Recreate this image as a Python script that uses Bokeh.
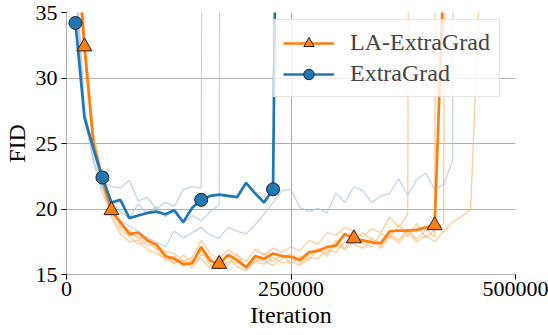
from bokeh.plotting import figure
from bokeh.models import FixedTicker, BasicTickFormatter, Legend, LegendItem
from bokeh.embed import file_html
from bokeh.resources import INLINE

ITER = [10000, 20000, 30000, 40000, 50000, 60000, 70000, 80000, 90000, 100000,
        110000, 120000, 130000, 140000, 150000, 160000, 170000, 180000, 190000, 200000,
        210000, 220000, 230000, 240000, 250000, 260000, 270000, 280000, 290000, 300000,
        310000, 320000, 330000, 340000, 350000, 360000, 370000, 380000, 390000, 400000,
        410000, 420000, 430000, 440000, 450000, 460000, 470000]

# LA-ExtraGrad main run
LA_MAIN = [41.0, 32.4, 25.0, 22.2, 19.9, 19.0, 18.1, 18.2, 17.6, 17.3,
           16.4, 16.2, 15.8, 15.85, 17.1, 16.05, 15.8, 16.5, 16.1, 15.55,
           16.4, 16.2, 16.6, 16.4, 16.35, 16.1, 16.7, 16.8, 17.1, 17.2,
           18.1, 17.75, 17.6, 17.45, 17.4, 18.3, 18.35, 18.35, 18.4, 18.6,
           18.75, 38.0, 100.0]
# LA-ExtraGrad other runs (faint)
LA_RUN1 = [45.0, 33.5, 25.8, 22.6, 20.3, 18.6, 18.4, 17.7, 17.9, 17.0,
           16.8, 16.6, 16.0, 16.3, 17.6, 16.6, 16.2, 16.9, 16.4, 16.0,
           16.9, 16.5, 17.0, 16.7, 17.1, 16.8, 17.6, 17.3, 18.2, 18.0,
           18.6, 18.3, 17.9, 18.5, 18.2, 19.4, 18.6, 19.6, 300.0]
LA_RUN2 = [42.0, 32.8, 24.6, 21.7, 19.6, 18.4, 17.9, 17.3, 17.5, 16.9,
           16.1, 16.4, 15.6, 16.1, 16.8, 15.7, 16.0, 16.3, 15.6, 15.3,
           16.0, 15.8, 16.3, 15.9, 16.0, 15.7, 16.3, 16.2, 16.9, 16.7,
           17.5, 17.3, 17.0, 17.8, 17.2, 18.1, 17.6, 18.5, 17.7, 18.4,
           17.9, 300.0]
LA_RUN3 = [44.0, 31.8, 24.9, 21.9, 19.4, 18.1, 17.5, 17.6, 16.9, 16.6,
           16.2, 15.9, 16.1, 15.5, 16.5, 16.3, 15.4, 16.0, 15.9, 15.5,
           15.9, 16.6, 16.0, 16.5, 15.8, 16.4, 16.1, 17.0, 16.6, 17.6,
           17.0, 18.0, 17.4, 17.1, 18.1, 17.8, 18.8, 17.9, 18.9, 17.8,
           18.4, 18.9, 300.0]
LA_RUN4 = [43.0, 33.0, 25.3, 22.0, 19.7, 18.9, 18.0, 17.9, 17.2, 17.4,
           16.6, 15.8, 16.5, 15.9, 16.2, 15.5, 16.4, 15.7, 16.6, 15.4,
           16.2, 16.0, 15.7, 16.2, 16.6, 15.9, 16.5, 16.9, 16.4, 17.3,
           16.9, 17.5, 18.2, 17.6, 17.0, 17.9, 17.4, 18.3, 17.5, 18.0,
           17.5, 18.3, 19.0, 19.4, 20.0, 37.0, 200.0]

# ExtraGrad main run
EG_MAIN = [34.2, 27.0, 24.6, 22.4, 20.5, 20.7, 19.3, 19.5, 19.7, 19.8,
           19.6, 19.9, 19.0, 20.1, 20.7, 21.0, 21.1, 21.0, 20.9, 22.0,
           21.2, 20.5, 21.5, 90.0]
# ExtraGrad other runs (faint)
EG_RUN1 = [39.0, 27.6, 24.4, 22.1, 21.7, 21.6, 22.2, 20.6, 20.9, 20.0,
           20.5, 20.2, 21.5, 21.7, 21.6, 300.0]
EG_RUN2 = [37.0, 26.8, 23.8, 21.6, 20.6, 19.8, 19.3, 20.4, 19.6, 20.2,
           19.4, 19.9, 18.9, 19.5, 19.1, 19.8, 20.3, 300.0]
EG_RUN3 = [38.0, 27.2, 23.6, 21.2, 19.8, 19.1, 18.7, 18.3, 17.8, 17.5,
           17.1, 18.3, 17.8, 18.2, 18.6, 18.0, 17.8, 18.6, 18.3, 18.1,
           18.8, 19.6, 20.5, 21.4, 21.5, 20.1, 19.8, 20.05, 19.7, 21.2,
           20.5, 21.7, 21.4, 20.5, 21.0, 21.2, 22.3, 21.05, 22.25, 22.75,
           21.5, 21.9, 23.7, 300.0]

LA_MARK_ITERS = [20000, 50000, 170000, 320000, 410000]
EG_MARK_ITERS = [10000, 40000, 150000, 230000]

X_TICKS = [0, 250000, 500000]
Y_TICKS = [15, 20, 25, 30, 35]

ORANGE = "#ff7f0e"
BLUE = "#1f77b4"
ORANGE_FAINT = "#ffbb78"
BLUE_FAINT = "#aec7e8"
FONT = "'Liberation Serif', serif"

p = figure(width=548, height=335, output_backend="svg", toolbar_location=None,
           x_range=(0, 500000), y_range=(15, 35),
           min_border_left=62, min_border_right=33, min_border_top=12, min_border_bottom=61)
p.outline_line_color = None
p.background_fill_color = "white"

for ax in (p.xaxis[0], p.yaxis[0]):
    ax.major_label_text_font = FONT
    ax.major_label_text_font_size = "22px"
    ax.major_label_text_color = "black"
    ax.axis_label_text_font = FONT
    ax.axis_label_text_font_size = "24px"
    ax.axis_label_text_font_style = "normal"
    ax.axis_label_text_color = "black"
    ax.axis_line_color = "#b0b0b0"
    ax.major_tick_line_color = "black"
    ax.major_tick_out = 5
    ax.major_tick_in = 0
    ax.minor_tick_line_color = None
    ax.axis_label_standoff = 3

p.xaxis.major_label_standoff = 2
p.yaxis.major_label_standoff = 4
p.xaxis.ticker = FixedTicker(ticks=X_TICKS)
p.yaxis.ticker = FixedTicker(ticks=Y_TICKS)
p.xaxis.formatter = BasicTickFormatter(use_scientific=False)
p.xaxis.axis_label = "Iteration"
p.yaxis.axis_label = "FID"
p.grid.grid_line_color = "#b0b0b0"
p.grid.grid_line_width = 1
p.xgrid.ticker = FixedTicker(ticks=X_TICKS)
p.ygrid.ticker = FixedTicker(ticks=Y_TICKS)

for run in (LA_RUN1, LA_RUN2, LA_RUN3, LA_RUN4):
    p.line(ITER[:len(run)], run, line_color=ORANGE_FAINT, line_width=1.3, line_alpha=0.75)
for run in (EG_RUN1, EG_RUN2, EG_RUN3):
    p.line(ITER[:len(run)], run, line_color=BLUE_FAINT, line_width=1.3, line_alpha=0.75)

la_line = p.line(ITER[:len(LA_MAIN)], LA_MAIN, line_color=ORANGE, line_width=2.7)
eg_line = p.line(ITER[:len(EG_MAIN)], EG_MAIN, line_color=BLUE, line_width=2.7)

la_my = [LA_MAIN[ITER.index(it)] for it in LA_MARK_ITERS]
eg_my = [EG_MAIN[ITER.index(it)] for it in EG_MARK_ITERS]
la_mk = p.scatter(LA_MARK_ITERS, la_my, marker="triangle", size=15, fill_color=ORANGE,
                  line_color="#222222", line_width=1)
eg_mk = p.scatter(EG_MARK_ITERS, eg_my, marker="circle", size=13, fill_color=BLUE,
                  line_color="#222222", line_width=1)

legend = Legend(items=[LegendItem(label="LA-ExtraGrad", renderers=[la_line, la_mk]),
                       LegendItem(label="ExtraGrad", renderers=[eg_line, eg_mk])],
                location=(207, 177))
legend.label_text_font = FONT
legend.label_text_font_size = "24px"
legend.glyph_width = 51
legend.glyph_height = 26
legend.label_standoff = 16
legend.padding = 9
legend.spacing = 4
legend.margin = 0
legend.border_line_color = "#cccccc"
legend.border_line_width = 1
legend.background_fill_alpha = 0.8
p.add_layout(legend)

open("out.html", "w").write(file_html(p, INLINE))
